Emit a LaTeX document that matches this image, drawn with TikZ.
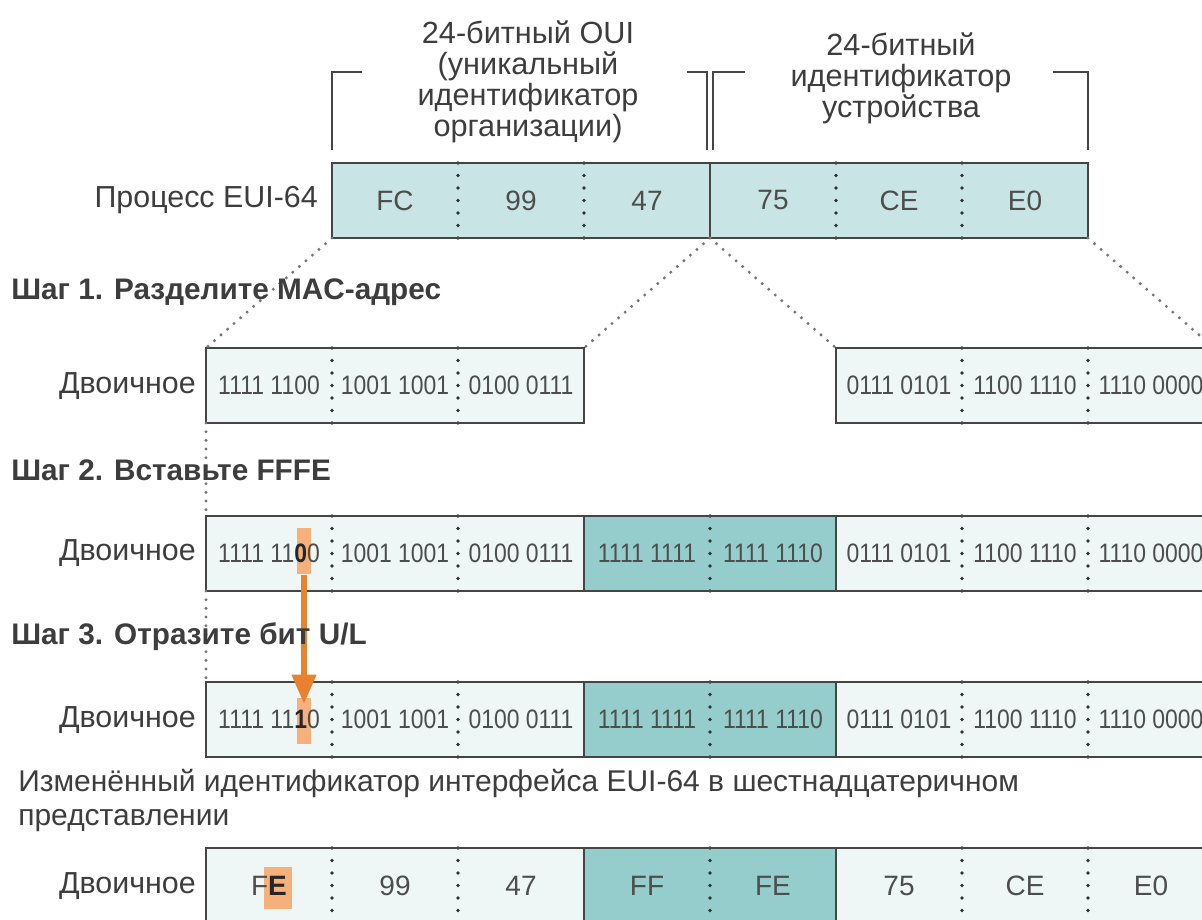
\documentclass[tikz,border=0pt]{standalone}
\usepackage{fontspec}
\setmainfont{Liberation Sans}
\newfontfamily\narrowsans[FakeStretch=0.86]{Liberation Sans}
\usetikzlibrary{positioning, arrows.meta}
\definecolor{inkGray}{HTML}{3D3D3D}
\definecolor{valGray}{HTML}{4D4D4D}
\definecolor{tealTop}{HTML}{C9E4E4}
\definecolor{tealPale}{HTML}{EEF6F6}
\definecolor{tealMid}{HTML}{95CCCC}
\definecolor{frameGray}{HTML}{454545}
\definecolor{dotGray}{HTML}{777777}
\definecolor{ulOrange}{HTML}{E8822F}
\definecolor{ulPeach}{HTML}{F6B07C}
\tikzset{
  every node/.style={text=inkGray},
  cell/.style={minimum width=94.5pt, minimum height=56.25pt, inner sep=0pt, outer sep=0pt},
  hexTxt/.style={inner sep=0pt, font=\fontsize{21}{24}\selectfont, text=valGray},
  binTxt/.style={inner sep=0pt, font=\narrowsans\fontsize{20}{23}\selectfont, text=valGray},
  hexTop/.style={cell, hexTxt, fill=tealTop},
  hexPale/.style={cell, hexTxt, fill=tealPale},
  hexMid/.style={cell, hexTxt, fill=tealMid},
  binPale/.style={cell, binTxt, fill=tealPale},
  binMid/.style={cell, binTxt, fill=tealMid},
  boxframe/.style={draw=frameGray, line width=1.8pt},
  divdots/.style={draw=frameGray!70!black, line width=2.7pt, line cap=round, dash pattern=on 0pt off 9.375pt},
  zoomline/.style={draw=dotGray, line width=2.5pt, line cap=round, dash pattern=on 0pt off 6.5pt},
  brk/.style={draw=frameGray, line width=1.5pt},
  ttl/.style={inner sep=0pt, align=center, font=\fontsize{23}{23.25}\selectfont},
  rowlbl/.style={anchor=east, inner sep=0pt, font=\fontsize{22.8}{24}\selectfont},
  stepttl/.style={anchor=west, inner sep=0pt, font=\bfseries\fontsize{22.3}{24}\selectfont},
  noteTxt/.style={anchor=north west, inner sep=0pt, align=left, font=\fontsize{22.5}{25.5}\selectfont},
  hilite/.style={fill=ulPeach, inner sep=0pt, minimum width=10.5pt, minimum height=35pt},
  ularrow/.style={-{Triangle[length=22pt, width=17.5pt]}, draw=ulOrange, line width=4.5pt},
}
\newcommand{\hotbit}[1]{\textbf{\color{black!85}#1}}

\begin{document}
\begin{tikzpicture}[x=0.75pt, y=-0.75pt]
  \useasboundingbox (0,0) rectangle (1202,920);
  \clip (0,0) rectangle (1202,920);
  % brackets over OUI and device id
  \node[ttl, anchor=north] (ouiTxt) at (528,20) {24-битный OUI\\(уникальный\\идентификатор\\организации)};
  \node[ttl, anchor=north] (devTxt) at (901,32) {24-битный\\идентификатор\\устройства};
  \draw[brk] (332,150) -- (332,72) -- (362,72);
  \draw[brk] (687,72) -- (707,72) -- (707,150);
  \draw[brk] (745,72) -- (713,72) -- (713,150);
  \draw[brk] (1053,72) -- (1088,72) -- (1088,150);
  % EUI-64 process row
  \node[rowlbl] (procLbl) at (318,200) {Процесс EUI-64};
  \node[hexTop, anchor=north west] (t1) at (332,163) {FC};
  \node[hexTop, right=0pt of t1] (t2) {99};
  \node[hexTop, right=0pt of t2] (t3) {47};
  \node[hexTop, right=0pt of t3] (t4) {75};
  \node[hexTop, right=0pt of t4] (t5) {CE};
  \node[hexTop, right=0pt of t5] (t6) {E0};
  \draw[divdots] (t1.north east) -- (t1.south east); \draw[divdots] (t2.north east) -- (t2.south east);
  \draw[divdots] (t4.north east) -- (t4.south east); \draw[divdots] (t5.north east) -- (t5.south east);
  \draw[boxframe] (t1.north west) rectangle (t6.south east);
  \draw[boxframe] (t3.north east) -- (t3.south east);
  % step 1
  \node[rowlbl] (lbl1) at (196,386) {Двоичное};
  \node[binPale, anchor=north west] (a1) at (206,348) {1111 1100};
  \node[binPale, right=0pt of a1] (a2) {1001 1001};
  \node[binPale, right=0pt of a2] (a3) {0100 0111};
  \node[binPale, anchor=north west] (b1) at (836,348) {0111 0101};
  \node[binPale, right=0pt of b1] (b2) {1100 1110};
  \node[binPale, right=0pt of b2] (b3) {1110 0000};
  \draw[divdots] (a1.north east) -- (a1.south east); \draw[divdots] (a2.north east) -- (a2.south east);
  \draw[divdots] (b1.north east) -- (b1.south east); \draw[divdots] (b2.north east) -- (b2.south east);
  \draw[boxframe] (a1.north west) rectangle (a3.south east);
  \draw[boxframe] (b1.north west) rectangle (b3.south east);
  \draw[zoomline] (t1.south west) -- (a1.north west);
  \draw[zoomline] (t3.south east) -- (a3.north east);
  \draw[zoomline] (t4.south west) -- (b1.north west);
  \draw[zoomline] (t6.south east) -- (b3.north east);
  \node[stepttl] (step1) at (11,292) {Шаг 1. Разделите MAC-адрес};
  % step 2
  \node[rowlbl] (lbl2) at (196,553) {Двоичное};
  \node[binPale, anchor=north west] (r2c1) at (206,516) {};
  \node[binPale, right=0pt of r2c1] (r2c2) {1001 1001};
  \node[binPale, right=0pt of r2c2] (r2c3) {0100 0111};
  \node[binMid, right=0pt of r2c3] (r2c4) {1111 1111};
  \node[binMid, right=0pt of r2c4] (r2c5) {1111 1110};
  \node[binPale, right=0pt of r2c5] (r2c6) {0111 0101};
  \node[binPale, right=0pt of r2c6] (r2c7) {1100 1110};
  \node[binPale, right=0pt of r2c7] (r2c8) {1110 0000};
  \node[hilite] (ul2) at (304,551) {};
  \node[binTxt] (r2c1t) at (r2c1) {1111 11\hotbit{0}0};
  \draw[divdots] (r2c1.north east) -- (r2c1.south east); \draw[divdots] (r2c2.north east) -- (r2c2.south east);
  \draw[divdots] (r2c4.north east) -- (r2c4.south east); \draw[divdots] (r2c6.north east) -- (r2c6.south east);
  \draw[divdots] (r2c7.north east) -- (r2c7.south east);
  \draw[boxframe] (r2c1.north west) rectangle (r2c8.south east);
  \draw[boxframe] (r2c3.north east) -- (r2c3.south east); \draw[boxframe] (r2c5.north east) -- (r2c5.south east);
  \draw[zoomline] (a1.south west) -- (r2c1.north west);
  \node[stepttl] (step2) at (11,470) {Шаг 2. Вставьте FFFE};
  % step 3
  \node[rowlbl] (lbl3) at (196,720) {Двоичное};
  \node[binPale, anchor=north west] (r3c1) at (206,682) {};
  \node[binPale, right=0pt of r3c1] (r3c2) {1001 1001};
  \node[binPale, right=0pt of r3c2] (r3c3) {0100 0111};
  \node[binMid, right=0pt of r3c3] (r3c4) {1111 1111};
  \node[binMid, right=0pt of r3c4] (r3c5) {1111 1110};
  \node[binPale, right=0pt of r3c5] (r3c6) {0111 0101};
  \node[binPale, right=0pt of r3c6] (r3c7) {1100 1110};
  \node[binPale, right=0pt of r3c7] (r3c8) {1110 0000};
  \node[hilite] (ul3) at (304,721) {};
  \node[binTxt] (r3c1t) at (r3c1) {1111 11\hotbit{1}0};
  \draw[divdots] (r3c1.north east) -- (r3c1.south east); \draw[divdots] (r3c2.north east) -- (r3c2.south east);
  \draw[divdots] (r3c4.north east) -- (r3c4.south east); \draw[divdots] (r3c6.north east) -- (r3c6.south east);
  \draw[divdots] (r3c7.north east) -- (r3c7.south east);
  \draw[boxframe] (r3c1.north west) rectangle (r3c8.south east);
  \draw[boxframe] (r3c3.north east) -- (r3c3.south east); \draw[boxframe] (r3c5.north east) -- (r3c5.south east);
  \draw[zoomline] (r2c1.south west) -- (r3c1.north west);
  \draw[ularrow] (ul2.south) -- ([yshift=-5pt]ul3.north);
  \node[stepttl] (step3) at (11,637) {Шаг 3. Отразите бит U/L};
  % result in hex
  \node[noteTxt] (hexNote) at (18,769) {Изменённый идентификатор интерфейса EUI-64 в шестнадцатеричном\\представлении};
  \node[rowlbl] (lbl4) at (196,886) {Двоичное};
  \node[hexPale, anchor=north west] (h1) at (206,848) {};
  \node[hexPale, right=0pt of h1] (h2) {99};
  \node[hexPale, right=0pt of h2] (h3) {47};
  \node[hexMid, right=0pt of h3] (h4) {FF};
  \node[hexMid, right=0pt of h4] (h5) {FE};
  \node[hexPale, right=0pt of h5] (h6) {75};
  \node[hexPale, right=0pt of h6] (h7) {CE};
  \node[hexPale, right=0pt of h7] (h8) {E0};
  \node[hilite, minimum width=21pt, minimum height=32pt] (ulE) at (277.5,888) {};
  \node[hexTxt] (h1t) at (h1) {F\hotbit{E}};
  \draw[divdots] (h1.north east) -- (h1.south east); \draw[divdots] (h2.north east) -- (h2.south east);
  \draw[divdots] (h4.north east) -- (h4.south east); \draw[divdots] (h6.north east) -- (h6.south east);
  \draw[divdots] (h7.north east) -- (h7.south east);
  \draw[boxframe] (h1.north west) rectangle (h8.south east);
  \draw[boxframe] (h3.north east) -- (h3.south east); \draw[boxframe] (h5.north east) -- (h5.south east);
\end{tikzpicture}
\end{document}
